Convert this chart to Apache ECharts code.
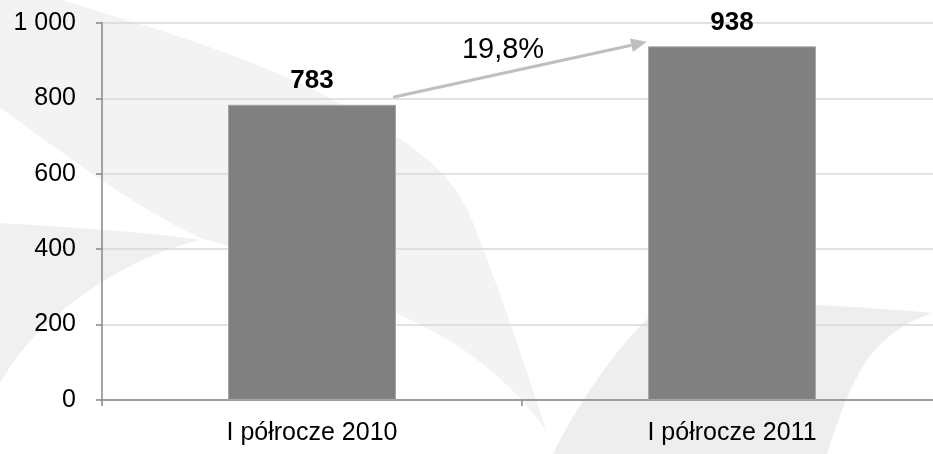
<!DOCTYPE html>
<html>
<head>
<meta charset="utf-8">
<script src="https://cdn.jsdelivr.net/npm/echarts@6/dist/echarts.min.js"></script>
<style>
  html, body { margin: 0; padding: 0; background: #ffffff; }
  #wrap { position: relative; width: 933px; height: 454px; overflow: hidden; }
  #bg { position: absolute; left: 0; top: 0; }
  #chart { position: absolute; left: 0; top: 0; width: 933px; height: 454px; }
</style>
</head>
<body>
<div id="wrap">
  <svg id="bg" width="933" height="454" xmlns="http://www.w3.org/2000/svg">
    <path fill="#f3f3f3" d="M0 0 L62 0 C160 30 260 60 333 100 C410 140 450 170 470 215 C500 290 530 380 546 430 C520 395 480 350 396 313 C330 285 270 255 200 238 C130 205 60 150 0 108 Z"/>
    <path fill="#f0f0f0" d="M0 223 C80 228 150 232 200 240 C140 255 90 285 45 325 C25 345 10 365 0 383 Z"/>
    <path fill="#eeeeee" d="M553 454 C580 400 615 350 649 317 C700 305 760 303 816 305 C860 307 900 310 933 313 C910 320 885 335 867 360 C850 385 838 420 827 454 Z"/>
  </svg>
  <div id="chart"></div>
</div>
<script>
const categories = ['I półrocze 2010', 'I półrocze 2011'];
const values = [783, 938];
const yTickValues = [0, 200, 400, 600, 800, 1000];
const changeLabel = '19,8%';
const arrowFromValue = 803;
const arrowToValue = 950;

function fmt(v) {
  return String(v).replace(/\B(?=(\d{3})+(?!\d))/g, ' ');
}

const chart = echarts.init(document.getElementById('chart'), null, { renderer: 'canvas' });
const font = 'Arial, "Liberation Sans", sans-serif';
const option = {
  backgroundColor: 'transparent',
  animation: false,
  grid: { left: 102, width: 840, top: 23, height: 377, containLabel: false, outerBoundsMode: 'none' },
  xAxis: {
    type: 'category',
    data: categories,
    axisLine: { show: true, lineStyle: { color: '#868686', width: 1.5 } },
    axisTick: { show: true, alignWithLabel: false, length: 6, lineStyle: { color: '#868686', width: 1.5 } },
    axisLabel: { color: '#000000', fontSize: 25, fontFamily: font, margin: 21 },
    splitLine: { show: false }
  },
  yAxis: {
    type: 'value',
    min: yTickValues[0],
    max: yTickValues[yTickValues.length - 1],
    interval: yTickValues[1] - yTickValues[0],
    axisLine: { show: true, lineStyle: { color: '#868686', width: 1.5 } },
    axisTick: { show: true, length: 6, lineStyle: { color: '#868686', width: 1.5 } },
    axisLabel: { color: '#000000', fontSize: 25, fontFamily: font, margin: 26, formatter: fmt },
    splitLine: { show: true, lineStyle: { color: '#d9d9d9', width: 1.5 } }
  },
  series: [{
    type: 'bar',
    data: values,
    barWidth: '40%',
    itemStyle: { color: '#808080', borderColor: '#a6a6a6', borderWidth: 1 },
    label: {
      show: true,
      position: 'top',
      distance: 11,
      color: '#000000',
      fontSize: 26,
      fontWeight: 'bold',
      fontFamily: font,
      formatter: p => fmt(p.value)
    }
  }]
};
chart.setOption(option);

// Arrow annotation between the bars, positioned through the chart's own scales
const c0 = chart.convertToPixel({ xAxisIndex: 0, yAxisIndex: 0 }, [0, arrowFromValue]);
const c1 = chart.convertToPixel({ xAxisIndex: 0, yAxisIndex: 0 }, [1, arrowToValue]);
const band = chart.convertToPixel({ xAxisIndex: 0 }, 1) - chart.convertToPixel({ xAxisIndex: 0 }, 0);
const half = band * 0.4 / 2;
const x0 = c0[0] + half - 3, y0 = c0[1];
const x1 = c1[0] - half - 1, y1 = c1[1];
const ang = Math.atan2(y1 - y0, x1 - x0);
const hl = 16, hw = 7;
const bx = x1 - hl * Math.cos(ang), by = y1 - hl * Math.sin(ang);
const px = -Math.sin(ang) * hw, py = Math.cos(ang) * hw;
chart.setOption({
  graphic: [
    { type: 'line', shape: { x1: x0, y1: y0, x2: bx, y2: by }, style: { stroke: '#bfbfbf', lineWidth: 3 }, z: 10 },
    { type: 'polygon', shape: { points: [[x1, y1], [bx + px, by + py], [bx - px, by - py]] }, style: { fill: '#bfbfbf' }, z: 10 },
    { type: 'text', x: (x0 + x1) / 2 - 17, y: (y0 + y1) / 2 - 20, style: { text: changeLabel, fill: '#000000', font: '29px ' + font, textAlign: 'center', textVerticalAlign: 'middle' }, z: 10 }
  ]
});
</script>
</body>
</html>
